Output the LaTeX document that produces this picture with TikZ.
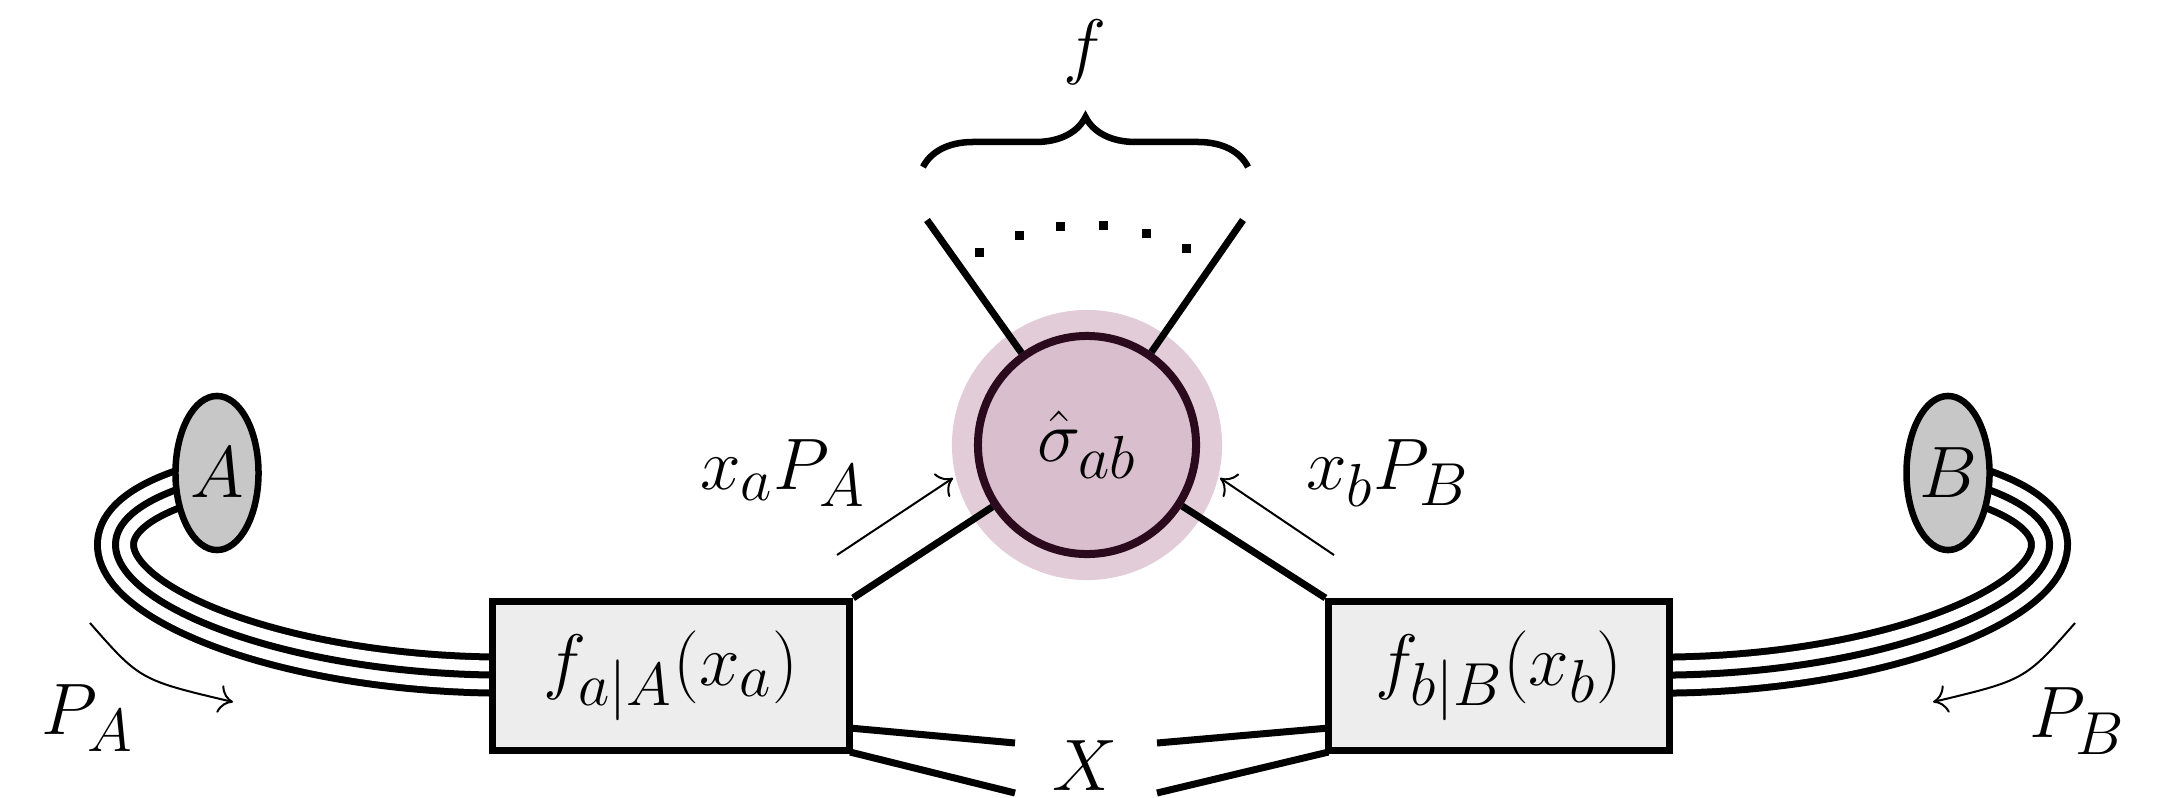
\documentclass[tikz,border=0pt]{standalone}
\usepackage{amsmath}
\usepackage{tikz}
\usetikzlibrary{arrows.meta, shapes.geometric, positioning, calc,
  decorations.pathreplacing, backgrounds}
\definecolor{halo}{RGB}{226,204,216}
\definecolor{sigfill}{RGB}{217,190,205}
\definecolor{sigline}{RGB}{42,10,28}
\DeclareMathSizes{21.6}{21.6}{18}{14.4}
\newcommand{\figfont}{\fontsize{21.6}{26}\selectfont}
\tikzset{
  hadron/.style={ellipse, draw=black, fill=black!22, line width=0.065cm,
                 minimum width=0.83cm, minimum height=1.54cm, inner sep=0pt,
                 font=\figfont},
  pdfbox/.style={rectangle, draw=black, fill=black!7, line width=0.07cm,
                 minimum height=1.49cm, inner sep=0pt, font=\figfont},
  hard/.style={circle, draw=sigline, fill=sigfill, line width=0.08cm,
               minimum size=2.18cm, inner sep=0pt, font=\figfont},
  leg/.style={line width=0.07cm},
  beam/.style={draw=black, line width=0.43cm,
               postaction={draw, white, line width=0.29cm},
               postaction={draw, black, line width=0.07cm}},
  mom/.style={-{To[length=4pt,width=8pt]}, line width=0.02cm},
  dotmark/.style={rectangle, fill=black, minimum size=0.09cm, inner sep=0pt},
  lbl/.style={font=\figfont, inner sep=0pt}
}

\begin{document}
\begin{tikzpicture}[x=0.01cm, y=-0.01cm]
  \useasboundingbox (0,0) rectangle (2161,797);

  % hadrons, pdfs and the hard part
  \node[hadron] (hadA) at (217,473) {$A$};
  \node[hadron] (hadB) at (1948,473) {$B$};
  \node[pdfbox, minimum width=3.57cm] (pdfA) at (671,676) {$f_{a|A}(x_a)$};
  \node[pdfbox, minimum width=3.40cm] (pdfB) at (1499,676) {$f_{b|B}(x_b)$};
  \node[hard] (sigma) at (1087,445) {$\hat{\sigma}_{ab}$};

  \begin{pgfonlayer}{background}
    \fill[halo] (sigma) circle (1.35cm);
    \draw[beam] (hadA.center) -- (190,485) .. controls (0,545) and (200,670) .. (490,675) -- (pdfA.center);
    \draw[beam] (hadB.center) -- (1975,485) .. controls (2165,545) and (1965,670) .. (1675,675) -- (pdfB.center);
  \end{pgfonlayer}

  % outgoing legs
  \coordinate (outL) at (927,220);
  \coordinate (outR) at (1243,220);
  \draw[leg] (sigma) -- (outL);
  \draw[leg] (sigma) -- (outR);
  \foreach \a [count=\i] in {119.2,108.0,96.8,85.6,74.4,63.2}
    \node[dotmark] (dot\i) at ($(sigma)+(-\a:220)$) {};
  \coordinate (brL) at (923,167);
  \coordinate (brR) at (1248,167);
  \draw[line width=0.065cm, decorate, decoration={brace, amplitude=0.5cm}] (brL) -- (brR);
  \node[lbl] (nf) at (1085,52) {$f$};

  % incoming partons
  \draw[leg] (pdfA.north east) -- (sigma);
  \draw[leg] (pdfB.north west) -- (sigma);
  \coordinate (pAs) at (837,555);
  \coordinate (pAe) at (953,478);
  \draw[mom] (pAs) -- (pAe);
  \node[lbl] (lxa) at (783,473) {$x_aP_A$};
  \coordinate (pBs) at (1334,555);
  \coordinate (pBe) at (1220,478);
  \draw[mom] (pBs) -- (pBe);
  \node[lbl] (lxb) at (1388,473) {$x_bP_B$};

  % remnants
  \node[lbl] (xrem) at (1085,766) {$X$};
  \coordinate (xAu) at (1015,743);
  \coordinate (xAd) at (1015,793);
  \coordinate (xBu) at (1157,743);
  \coordinate (xBd) at (1157,793);
  \draw[leg] ($(pdfA.south east)+(-3,-26)$) -- (xAu);
  \draw[leg] ($(pdfA.south east)+(-3,-2)$) -- (xAd);
  \draw[leg] ($(pdfB.south west)+(3,-26)$) -- (xBu);
  \draw[leg] ($(pdfB.south west)+(3,-2)$) -- (xBd);

  % beam momenta
  \coordinate (bAs) at (90,623);
  \coordinate (bAe) at (233,702);
  \draw[mom] (bAs) .. controls (140,680) .. (bAe);
  \node[lbl] (lpa) at (88,718) {$P_A$};
  \coordinate (bBs) at (2075,623);
  \coordinate (bBe) at (1933,702);
  \draw[mom] (bBs) .. controls (2025,680) .. (bBe);
  \node[lbl] (lpb) at (2077,721) {$P_B$};
\end{tikzpicture}
\end{document}
